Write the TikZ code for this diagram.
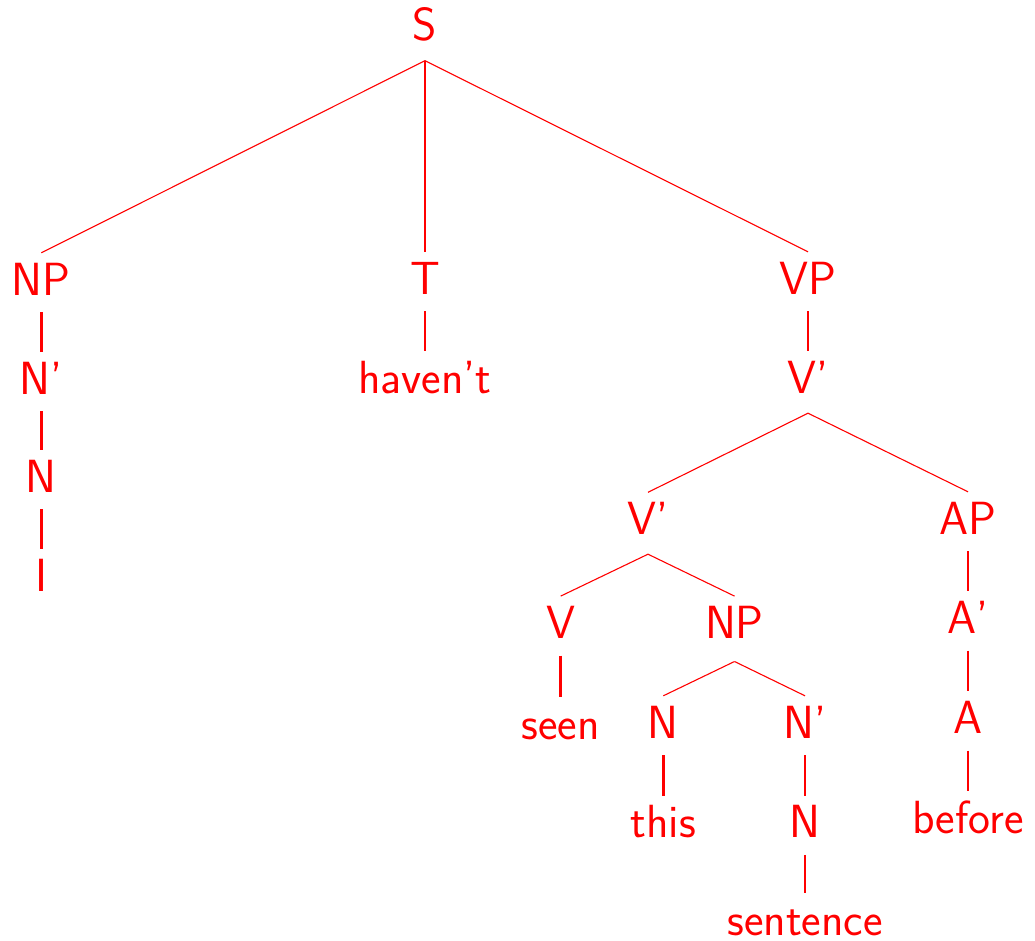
\documentclass[tikz,border=0pt]{standalone}
\usepackage{fontspec}
\begin{document}
\begin{tikzpicture}[x=1pt,y=1pt,
  tn/.style={text=red, inner sep=0pt, text height=42pt, text depth=17pt,
    font=\sffamily\fontsize{46.5}{50}\selectfont, anchor=base},
  br/.style={text depth=19.5pt},
  dedge/.style={draw=red, line width=1.1pt},
  vedge/.style={draw=red, line width=2.6pt}]
\useasboundingbox (0,0) rectangle (1035,-941);
% nodes
\node[tn,br] (S) at (425,-41) {S};
\node[tn] (NPa) at (41.3,-295) {NP};
\node[tn] (T) at (425,-294) {T};
\node[tn] (VP) at (808,-294) {VP};
\node[tn] (Nba) at (41.3,-394) {N'};
\node[tn] (hav) at (425,-393.5) {haven't};
\node[tn,br] (Vba) at (808,-393.5) {V'};
\node[tn] (Na) at (41.3,-492) {N};
\node[tn] (I) at (41.3,-591) {I};
\node[tn,br] (Vbb) at (648,-534.5) {V'};
\node[tn] (AP) at (968,-534) {AP};
\node[tn] (V) at (560.7,-638.3) {V};
\node[tn,text depth=23pt] (NPb) at (734.5,-638.3) {NP};
\node[tn] (Ab) at (968,-633.3) {A'};
\node[tn] (seen) at (560.7,-739.3) {seen};
\node[tn] (Nb) at (663.3,-738) {N};
\node[tn] (Nbb) at (805,-738) {N'};
\node[tn] (A) at (968,-733.3) {A};
\node[tn] (this) at (663.3,-837.7) {this};
\node[tn] (Nc) at (805,-837.7) {N};
\node[tn] (before) at (968,-833.3) {before};
\node[tn,text depth=0pt] (sent) at (805,-935) {sentence};
% diagonal edges
\draw[dedge] (S.south) -- (NPa.north);
\draw[dedge] (S.south) -- (VP.north);
\draw[dedge] (Vba.south) -- (Vbb.north);
\draw[dedge] (Vba.south) -- (AP.north);
\draw[dedge] (Vbb.south) -- (V.north);
\draw[dedge] (Vbb.south) -- (NPb.north);
\draw[dedge] (NPb.south) -- (Nb.north);
\draw[dedge] (NPb.south) -- (Nbb.north);
% vertical edges
\draw[vedge] (S.south) -- (T.north);
\draw[vedge] (NPa.south) -- (Nba.north);
\draw[vedge] (Nba.south) -- (Na.north);
\draw[vedge] (Na.south) -- (I.north);
\draw[vedge] (T.south) -- (hav.north);
\draw[vedge] (VP.south) -- (Vba.north);
\draw[vedge] (AP.south) -- (Ab.north);
\draw[vedge] (Ab.south) -- (A.north);
\draw[vedge] (A.south) -- (before.north);
\draw[vedge] (V.south) -- (seen.north);
\draw[vedge] (Nb.south) -- (this.north);
\draw[vedge] (Nbb.south) -- (Nc.north);
\draw[vedge] (Nc.south) -- (sent.north);
\end{tikzpicture}
\end{document}
